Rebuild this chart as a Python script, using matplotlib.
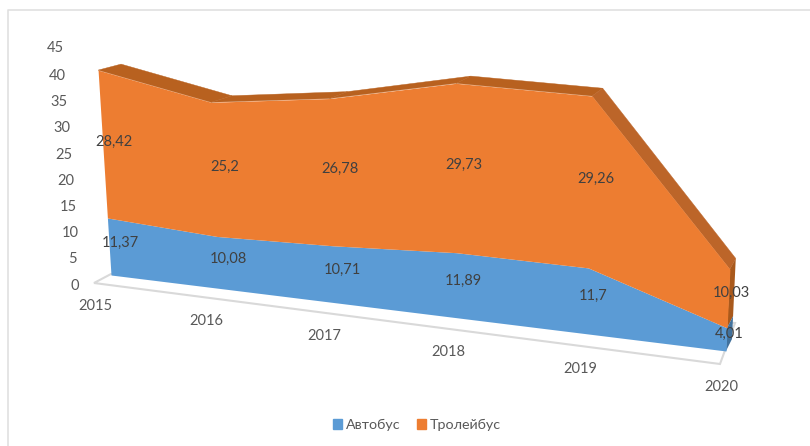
import numpy as np
import matplotlib
matplotlib.use("Agg")
import matplotlib.pyplot as plt
from matplotlib.patches import Patch
from matplotlib.transforms import Transform

plt.rcParams['font.family'] = ['Lato', 'Open Sans', 'DejaVu Sans']

years = ['2015', '2016', '2017', '2018', '2019', '2020']
bus = [11.37, 10.08, 10.71, 11.89, 11.7, 4.01]
trolley = [28.42, 25.2, 26.78, 29.73, 29.26, 10.03]
bus_labels = ['11,37', '10,08', '10,71', '11,89', '11,7', '4,01']
trolley_labels = ['28,42', '25,2', '26,78', '29,73', '29,26', '10,03']
y_ticks = [0, 5, 10, 15, 20, 25, 30, 35, 40, 45]

BLUE = '#5B9BD5'
ORANGE = '#ED7D31'
GREY = '#595959'


class Plane(Transform):
    """Perspective map from (category index, value) to picture pixels."""
    input_dims = 2
    output_dims = 2

    def __init__(self, corners):
        super().__init__()
        src = [(0, 0), (5, 0), (0, 40), (5, 40)]
        a, b = [], []
        for (u, v), (x, y) in zip(src, corners):
            a.append([u, v, 1, 0, 0, 0, -u * x, -v * x])
            a.append([0, 0, 0, u, v, 1, -u * y, -v * y])
            b += [x, y]
        self.h = np.append(np.linalg.solve(np.array(a, float), np.array(b, float)), 1).reshape(3, 3)

    def transform_non_affine(self, values):
        pts = np.column_stack([values, np.ones(len(values))]) @ self.h.T
        return pts[:, :2] / pts[:, 2:]


front_corners = np.array([(111, 275), (726, 351), (98, 69), (737.5, 111.5)], float)
back_corners = np.array([(134, 268), (732, 339), (121, 63), (743, 103)], float)
front = Plane(front_corners)
back = Plane(back_corners)
middle = Plane((front_corners + back_corners) / 2)
under = Plane(np.array([(111, 275), (726, 351), (98, 69), (737.5, 115)], float)
              + [(-16, 31.5), (-5, 36), (-16, 31.5), (-5, 36)])

fig = plt.figure(figsize=(8.1, 4.46), dpi=100)
ax = fig.add_axes([0, 0, 1, 1])
ax.set_xlim(0, 810)
ax.set_ylim(446, 0)
ax.axis('off')

# chart frame, only top and left show in the screenshot
ax.plot([7.5, 7.5, 810], [445.5, 9.5, 9.5], color='#E0E0E0', lw=1.2)

idx = np.arange(len(years))
total = np.array(bus) + np.array(trolley)
zeros = np.zeros(len(years))


def pts(plane, i, v):
    return plane.transform(np.column_stack([i, v]))


# floor
floor_left = np.array([(94, 283), (720, 364), (735, 323), (111, 274)])
ax.fill(*floor_left.T, facecolor='white', edgecolor='#D9D9D9', lw=1.5)

# top face of the orange band
for k in range(len(years) - 1):
    seg = [k, k + 1]
    poly = np.vstack([pts(front, seg, total[seg]), pts(back, seg[::-1], total[seg[::-1]])])
    ax.fill(*poly.T, color='#BC6529' if k == 4 else '#B8611F', lw=0.3)

# right end faces
end = [5, 5]
poly = np.vstack([pts(front, end, [bus[5], total[5]]), pts(back, end, [total[5], bus[5]])])
ax.fill(*poly.T, color='#A9591C', lw=0)
poly = np.vstack([pts(front, end, [0, bus[5]]), pts(back, end, [bus[5], 0])])
ax.fill(*poly.T, color='#41719C', lw=0)

# front faces
ax.fill_between(idx, zeros, bus, color=BLUE, lw=0, transform=front + ax.transData)
ax.fill_between(idx, bus, total, color=ORANGE, lw=0, transform=front + ax.transData)
ax.set_xlim(0, 810)
ax.set_ylim(446, 0)

# data labels sit half way through the depth of the band
for i in idx:
    ax.text(i, bus[i] / 2, bus_labels[i], transform=middle + ax.transData,
            ha='center', va='center', fontsize=10.5, color='#404040')
    ax.text(i, bus[i] + trolley[i] / 2, trolley_labels[i], transform=middle + ax.transData,
            ha='center', va='center', fontsize=10.5, color='#404040')

# axis labels
for t in y_ticks:
    ax.text(np.interp(t, [0, 40, 45], [75, 57, 55]), np.interp(t, [0, 40, 45], [285.5, 76, 48.5]), str(t),
            ha='center', va='center', fontsize=10.5, color=GREY)
for i in idx:
    ax.text(i, 0, years[i], transform=under + ax.transData,
            ha='center', va='center', fontsize=10.5, color=GREY)

handles = [Patch(color=BLUE, label='Автобус'), Patch(color=ORANGE, label='Тролейбус')]
ax.legend(handles=handles, loc='center', bbox_to_anchor=(417 / 810, 1 - 425 / 446), ncol=2,
          frameon=False, fontsize=10.3, labelcolor=GREY, handlelength=0.65, handleheight=0.65,
          handletextpad=0.3, columnspacing=1.1)

fig.savefig('out.png', dpi=100)
